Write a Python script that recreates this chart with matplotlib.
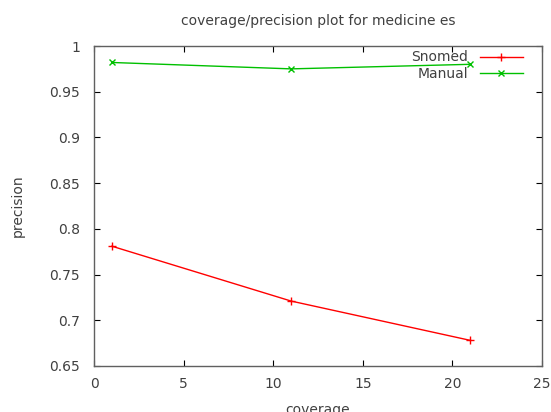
import matplotlib
matplotlib.use("Agg")
import matplotlib.pyplot as plt

plt.rcParams["font.family"] = ["DejaVu Sans"]

# data
coverage = [1, 11, 21]
snomed = [0.781, 0.721, 0.678]
manual = [0.982, 0.975, 0.980]

xticks = [0, 5, 10, 15, 20, 25]
yticks = [0.65, 0.7, 0.75, 0.8, 0.85, 0.9, 0.95, 1.0]
ytick_labels = ["0.65", "0.7", "0.75", "0.8", "0.85", "0.9", "0.95", "1"]

text_col = "#404040"

fig = plt.figure(figsize=(5.51, 4.12), dpi=100)
ax = fig.add_axes([0.1706, 0.1117, 0.8131, 0.7766])

ax.plot(coverage, snomed, color="#ff0000", lw=1, marker="+", ms=6, mew=1, label="Snomed")
ax.plot(coverage, manual, color="#00c000", lw=1, marker="x", ms=4.5, mew=1, label="Manual")

ax.set_xlim(0, 25)
ax.set_ylim(0.65, 1.0)
ax.set_xticks(xticks)
ax.set_xticklabels([str(t) for t in xticks])
ax.set_yticks(yticks)
ax.set_yticklabels(ytick_labels)
ax.tick_params(direction="in", top=True, right=True, length=4, width=0.8,
               colors="#000000", labelcolor=text_col, labelsize=10)
ax.tick_params(axis="y", pad=10)
ax.tick_params(axis="x", pad=8)
for sp in ax.spines.values():
    sp.set_color("#606060")
    sp.set_linewidth(1)

ax.set_xlabel("coverage", color=text_col, fontsize=10, labelpad=8.5)
ax.set_ylabel("precision", color=text_col, fontsize=10, labelpad=18)
ax.set_title("coverage/precision plot for medicine es", color=text_col, fontsize=10, pad=15)

leg = ax.legend(loc="upper right", bbox_to_anchor=(0.9576, 0.986), frameon=False,
                markerfirst=False, fontsize=10, handlelength=3.1, borderpad=0,
                borderaxespad=0, labelspacing=0.15, handletextpad=0.85)
for t in leg.get_texts():
    t.set_color(text_col)

fig.savefig("out.png", dpi=100)
